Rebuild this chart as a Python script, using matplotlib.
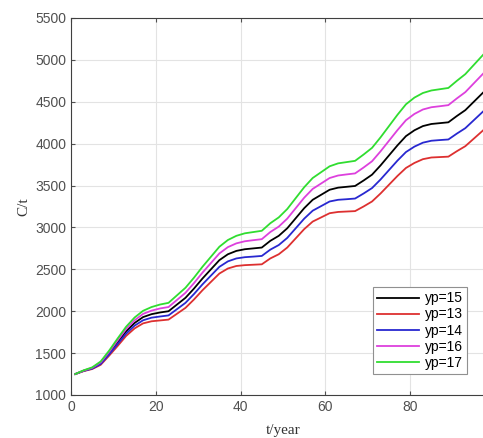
import matplotlib
matplotlib.use("Agg")
import matplotlib.pyplot as plt
import numpy as np

t = np.arange(1, 100, 2)

yp15 = [1250, 1290, 1320, 1380, 1500, 1630, 1760, 1860, 1930, 1965,
        1985, 2000, 2080, 2160, 2270, 2390, 2500, 2610, 2680, 2720,
        2740, 2750, 2760, 2840, 2900, 2990, 3110, 3230, 3330, 3390,
        3450, 3475, 3485, 3495, 3560, 3630, 3740, 3860, 3980, 4090,
        4160, 4210, 4235, 4245, 4255, 4330, 4400, 4500, 4600, 4700]
yp13 = [1250, 1285, 1310, 1360, 1470, 1585, 1705, 1795, 1855, 1880,
        1890, 1900, 1970, 2040, 2140, 2250, 2350, 2450, 2510, 2540,
        2550, 2555, 2560, 2630, 2680, 2760, 2870, 2980, 3070, 3120,
        3170, 3185, 3190, 3195, 3250, 3310, 3405, 3510, 3615, 3710,
        3770, 3815, 3835, 3840, 3845, 3910, 3970, 4060, 4150, 4240]
yp14 = [1250, 1288, 1315, 1370, 1485, 1608, 1732, 1828, 1892, 1923,
        1937, 1950, 2025, 2100, 2205, 2320, 2425, 2530, 2595, 2630,
        2645, 2652, 2660, 2735, 2790, 2875, 2990, 3105, 3200, 3255,
        3310, 3330, 3337, 3345, 3405, 3470, 3572, 3685, 3798, 3900,
        3965, 4012, 4035, 4043, 4050, 4120, 4185, 4280, 4375, 4470]
yp16 = [1250, 1292, 1325, 1390, 1515, 1652, 1788, 1892, 1968, 2007,
        2033, 2050, 2135, 2220, 2335, 2460, 2575, 2690, 2765, 2810,
        2835, 2848, 2860, 2945, 3010, 3105, 3230, 3355, 3460, 3525,
        3590, 3620, 3633, 3645, 3715, 3790, 3908, 4035, 4162, 4280,
        4355, 4408, 4435, 4447, 4460, 4540, 4615, 4720, 4825, 4930]
yp17 = [1250, 1295, 1330, 1400, 1530, 1675, 1815, 1925, 2005, 2050,
        2080, 2100, 2190, 2280, 2400, 2530, 2650, 2770, 2850, 2900,
        2930, 2945, 2960, 3050, 3120, 3220, 3350, 3480, 3590, 3660,
        3730, 3765, 3780, 3795, 3870, 3950, 4075, 4210, 4345, 4470,
        4550, 4605, 4635, 4650, 4665, 4750, 4830, 4940, 5050, 5160]

series = [("yp=15", yp15, "black"),
          ("yp=13", yp13, "#dd3030"),
          ("yp=14", yp14, "#2828d0"),
          ("yp=16", yp16, "#dd40dd"),
          ("yp=17", yp17, "#30dd30")]

fig = plt.figure(figsize=(4.83, 4.38), dpi=100)
ax = fig.add_axes([71/483, 43/438, 424/483, 377/438])

for name, y, c in series:
    ax.plot(t, y, color=c, lw=1.3, label=name)

ax.set_xlim(0, 100)
ax.set_ylim(1000, 5500)
ax.set_xticks([0, 20, 40, 60, 80])
ax.set_yticks(np.arange(1000, 5501, 500))
ax.grid(True, color="#e3e3e3", lw=0.8)
ax.set_axisbelow(True)
ax.tick_params(direction="in", top=True, right=True, length=3,
               labelsize=10, colors="#505050")
for lab in ax.get_xticklabels() + ax.get_yticklabels():
    lab.set_family("Liberation Sans")
for sp in ax.spines.values():
    sp.set_color("#404040")
    sp.set_linewidth(0.8)

ax.set_xlabel("t/year", family="Liberation Serif", fontsize=11, color="#333333", labelpad=7)
ax.set_ylabel("C/t", family="Liberation Serif", fontsize=11, color="#333333", labelpad=3)

leg = ax.legend(loc="lower right", bbox_to_anchor=(0.933, 0.056), borderaxespad=0,
                fancybox=False, framealpha=1, edgecolor="#909090",
                prop={"family": "Liberation Sans", "size": 10},
                handlelength=3.0, labelspacing=0.15, handletextpad=0.4,
                borderpad=0.3)
leg.get_frame().set_linewidth(0.8)

fig.savefig("out.png", dpi=100)
